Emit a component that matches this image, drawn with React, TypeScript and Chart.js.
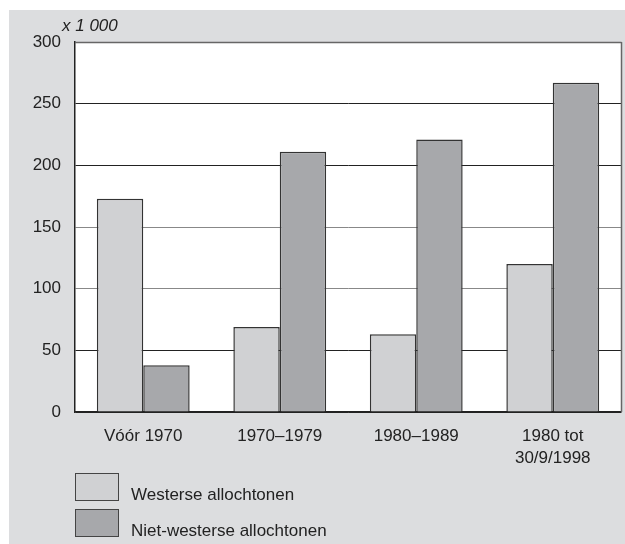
import React, { useEffect, useRef } from "react";
import { Chart, registerables } from "chart.js";

Chart.register(...registerables);

const categories: (string | string[])[] = ["Vóór 1970", "1970–1979", "1980–1989", ["1980 tot", "30/9/1998"]];
const westerse = [173, 69, 63, 120];
const nietWesterse = [38, 211, 221, 267];
const seriesLabels = ["Westerse allochtonen", "Niet-westerse allochtonen"];
const unitLabel = "x 1 000";

const FONT = "Arial, 'Liberation Sans', sans-serif";
const LIGHT = "#d0d1d3";
const DARK = "#a7a8ab";
const PANEL = "#dcdddf";
const FS = 17;

const panelPlugin = {
  id: "panel",
  beforeDraw(chart: any) {
    const { ctx, chartArea } = chart;
    ctx.save();
    ctx.fillStyle = "#ffffff";
    ctx.fillRect(0, 0, chart.width, chart.height);
    ctx.fillStyle = PANEL;
    ctx.fillRect(9, 10, chart.width - 9, chart.height - 10);
    ctx.fillStyle = "#ffffff";
    ctx.fillRect(chartArea.left, chartArea.top, chartArea.right - chartArea.left, chartArea.bottom - chartArea.top);
    ctx.restore();
  },
  afterDraw(chart: any) {
    const { ctx, chartArea } = chart;
    ctx.save();
    ctx.strokeStyle = "#666";
    ctx.lineWidth = 1.5;
    ctx.beginPath();
    ctx.moveTo(chartArea.right + 0.5, chartArea.top);
    ctx.lineTo(chartArea.right + 0.5, chartArea.bottom);
    ctx.moveTo(chartArea.left, chartArea.top + 0.5);
    ctx.lineTo(chartArea.right + 0.5, chartArea.top + 0.5);
    ctx.stroke();
    ctx.fillStyle = "#222";
    ctx.font = `italic ${FS}px ${FONT}`;
    ctx.textBaseline = "middle";
    ctx.textAlign = "left";
    ctx.fillText(unitLabel, 62, 26);
    const ds = chart.data.datasets;
    const tops = [473, 509];
    ds.forEach((d: any, i: number) => {
      const y = tops[i];
      ctx.fillStyle = d.backgroundColor;
      ctx.fillRect(75, y, 43, 27);
      ctx.strokeStyle = "#444";
      ctx.lineWidth = 1;
      ctx.strokeRect(75.5, y + 0.5, 43, 27);
      ctx.fillStyle = "#222";
      ctx.font = `${FS}px ${FONT}`;
      ctx.textBaseline = "middle";
      ctx.fillText(d.label, 131, y + 22);
    });
    ctx.restore();
  },
};

const gridColors: Record<number, string> = { 0: "#222", 50: "#222", 100: "#888", 150: "#888", 200: "#222", 250: "#222", 300: "#666" };

export default function App() {
  const ref = useRef<HTMLCanvasElement | null>(null);
  useEffect(() => {
    if (!ref.current) return;
    const chart = new Chart(ref.current, {
      type: "bar",
      data: {
        labels: categories,
        datasets: [
          { label: seriesLabels[0], data: westerse, backgroundColor: LIGHT, borderColor: "#333", borderWidth: 1.5 },
          { label: seriesLabels[1], data: nietWesterse, backgroundColor: DARK, borderColor: "#333", borderWidth: 1.5 },
        ],
      },
      options: {
        responsive: false,
        animation: false,
        devicePixelRatio: 1,
        layout: { padding: { top: 42, right: 4, left: 0, bottom: 0 } },
        datasets: { bar: { categoryPercentage: 0.68, barPercentage: 1 } },
        plugins: { legend: { display: false }, tooltip: { enabled: false } },
        scales: {
          x: {
            grid: { display: false },
            border: { display: true, color: "#222", width: 1.5 },
            ticks: { color: "#222", font: { family: FONT, size: FS, lineHeight: 22 / FS }, padding: 5, maxRotation: 0, autoSkip: false },
            afterFit(scale: any) {
              scale.height = 132;
            },
          },
          y: {
            min: 0,
            max: 300,
            ticks: { stepSize: 50, color: "#222", font: { family: FONT, size: FS }, padding: 14 },
            grid: {
              drawTicks: false,
              color: (c: any) => gridColors[c.tick?.value] ?? "#444",
              lineWidth: 1,
            },
            border: { display: true, color: "#222", width: 1.5 },
            afterFit(scale: any) {
              scale.width = 75;
            },
          },
        },
      },
      plugins: [panelPlugin],
    });
    return () => chart.destroy();
  }, []);
  return (
    <div style={{ position: "absolute", left: 0, top: 0, width: 625, height: 544 }}>
      <canvas ref={ref} width={625} height={544} style={{ width: 625, height: 544, display: "block" }} />
    </div>
  );
}
